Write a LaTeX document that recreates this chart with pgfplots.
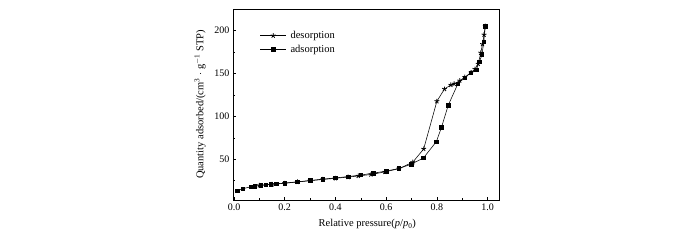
\documentclass[border=0pt]{standalone}
\usepackage{pgfplots}
\pgfplotsset{compat=1.18}
\usepackage{fontspec}
\setmainfont{Liberation Serif}
\begin{document}
\begin{tikzpicture}
\useasboundingbox (-233pt,-40pt) rectangle (467pt,200pt);
\begin{axis}[
  scale only axis,
  width=266pt, height=191pt,
  at={(0pt,0pt)}, anchor=south west,
  xmin=-0.004, xmax=1.045,
  ymin=2.5, ymax=225,
  xtick={0,0.2,0.4,0.6,0.8,1.0},
  minor xtick={0.1,0.3,0.5,0.7,0.9},
  ytick={50,100,150,200},
  minor ytick={25,75,125,175},
  tick pos=left,
  tick align=inside,
  major tick length=3pt,
  minor tick length=2pt,
  every tick/.style={black, line width=0.5pt},
  axis line style={line width=0.6pt},
  xticklabel={\pgfmathprintnumber[fixed,fixed zerofill,precision=1,assume math mode=true]{\tick}},
  /pgf/number format/assume math mode=true,
  tick label style={font=\fontsize{10}{11}\selectfont},
  label style={font=\fontsize{10.5}{12}\selectfont},
  xlabel={Relative pressure(\textit{p}/\textit{p}\textsubscript{0})},
  ylabel={Quantity adsorbed/(cm\textsuperscript{3} $\cdot$ g\textsuperscript{$-$1} STP)},
  xlabel style={at={(axis description cs:0.505,0)}, anchor=north, yshift=-16pt},
  ylabel style={at={(axis description cs:0,0.5)}, anchor=center, yshift=33pt},
  legend style={draw=none, fill=none, at={(axis description cs:0.1,0.895)}, anchor=north west,
    inner sep=0pt, row sep=1pt, column sep=2pt, font=\fontsize{10.5}{12}\selectfont},
  legend cell align=left,
  legend image code/.code={\draw[mark repeat=2,mark phase=2,#1] plot coordinates {(0cm,0cm)(0.46cm,0cm)(0.92cm,0cm)};},
]
\addplot[black, line width=0.55pt, mark=star, mark size=2.5pt, mark options={line width=0.8pt}] coordinates {
(0.991,205) (0.986,195) (0.980,184) (0.973,174) (0.963,161) (0.950,155) (0.935,151)
(0.910,145.5) (0.890,141.5) (0.868,137.8) (0.855,136.5) (0.830,131.8) (0.800,117.5)
(0.748,62) (0.705,46.5) (0.650,39) (0.595,35.2) (0.540,32.2) (0.490,30.5) (0.450,29.2)
(0.400,27.8) (0.350,26.4) (0.300,25) (0.250,23.5) (0.200,22) (0.150,20.8) (0.100,19.5)
};
\addlegendentry{desorption}
\addplot[black, line width=0.55pt, mark=square*, mark size=1.75pt] coordinates {
(0.013,13) (0.034,15.6) (0.068,18) (0.081,18.7) (0.105,19.5) (0.125,20.3) (0.144,20.8)
(0.166,21.4) (0.20,22.2) (0.25,23.7) (0.30,25.2) (0.35,26.8) (0.40,28.2) (0.45,29.8)
(0.50,31.6) (0.55,33.8) (0.60,36.2) (0.65,39.2) (0.70,44.3) (0.747,51.5) (0.798,70.5)
(0.818,87) (0.845,113) (0.883,138) (0.910,145) (0.933,150.5) (0.955,154) (0.968,163.5)
(0.978,172) (0.985,187) (0.991,205)
};
\addlegendentry{adsorption}
\end{axis}
\end{tikzpicture}
\end{document}
